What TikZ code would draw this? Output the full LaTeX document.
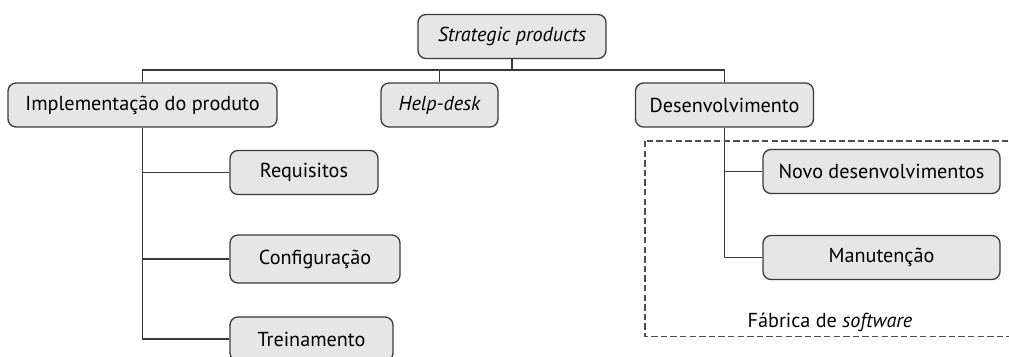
\documentclass[tikz,border=0pt]{standalone}
\usepackage{fontspec}
\setmainfont{PT Sans}
\usetikzlibrary{positioning}
\definecolor{boxfill}{HTML}{E6E6E6}
\definecolor{lineclr}{HTML}{3A3A3A}
\tikzset{
	item/.style = {draw = lineclr, fill = boxfill, rounded corners = 4pt, line width = 0.65pt,
		minimum height = 22pt, inner sep = 0pt, font = \fontsize{10.1}{12}\selectfont},
	link/.style = {draw = lineclr, line width = 0.65pt},
	factory/.style = {draw = lineclr!90, line width = 0.65pt, dash pattern = on 3.2pt off 1.6pt}
}
\begin{document}
\begin{tikzpicture}[x = 0.5pt, y = -0.5pt]
		\useasboundingbox (0, 0) rectangle (1009, 357);
		\clip (0, 0) rectangle (1009, 357);
		%%%%%%%%%%%%%
		\node [item, minimum width = 94pt] (sp) at (512, 36.5) {\itshape Strategic products};
		\node [item, minimum width = 134.5pt] (impl) at (142.5, 105) {Implementação do produto};
		\node [item, minimum width = 58.5pt] (help) at (439.5, 105) {\itshape Help-desk};
		\node [item, minimum width = 89pt] (dev) at (724.5, 105) {Desenvolvimento};
		%%%%%%%%%%%%%
		\node [item, minimum width = 74pt] (req) at (304, 172.5) {Requisitos};
		\node [item, minimum width = 85pt, minimum height = 24pt] (conf) at (315, 259) {Configuração};
		\node [item, minimum width = 81.5pt] (trein) at (311.5, 339) {Treinamento};
		\node [item, minimum width = 118.5pt] (novo) at (881.5, 171.5) {Novo desenvolvimentos};
		\node [item, minimum width = 118.5pt] (manut) at (881.5, 257.5) {Manutenção};
		%%%%%%%%%%%%%
		\coordinate (bar) at (0, 70);
		\draw [link] (sp.south) to (sp.south |- bar);
		\draw [link] (impl.north) -- (impl.north |- bar) -- (dev.north |- bar) -- (dev.north);
		\draw [link] (help.north) to (help.north |- bar);
		\draw [link] (impl.south) |- (req.west);
		\draw [link] (impl.south) |- (conf.west);
		\draw [link] (impl.south) |- (trein.west);
		\draw [link] (dev.south) |- (novo.west);
		\draw [link] (dev.south) |- (manut.west);
		%%%%%%%%%%%%%
		\draw [factory] (645, 141) rectangle (1020, 336.5);
		\node [font = \fontsize{10.1}{12}\selectfont] (fab) at (830, 322) {Fábrica de \textit{software}};
\end{tikzpicture}
\end{document}
